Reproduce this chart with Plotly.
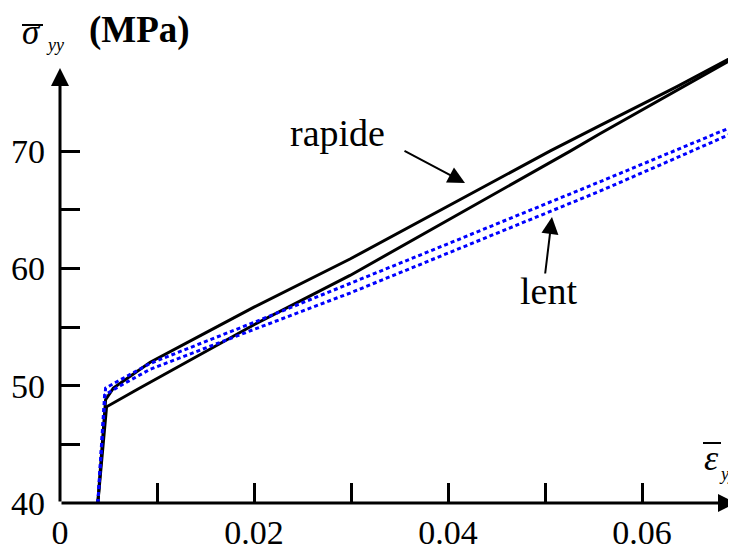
import plotly.graph_objects as go

# ---------------- data ----------------
strain_rapide_a = [0.0039, 0.0047, 0.0055, 0.0093, 0.0150, 0.0200, 0.0299, 0.0400, 0.0505, 0.0557, 0.0636, 0.0720]
stress_rapide_a = [40.0, 48.8, 49.8, 52.0, 54.5, 56.7, 60.8, 65.3, 70.0, 72.2, 75.5, 79.2]

strain_rapide_b = [0.0039, 0.0048, 0.0080, 0.0119, 0.0200, 0.0299, 0.0400, 0.0526, 0.0557, 0.0636, 0.0720]
stress_rapide_b = [40.0, 48.2, 49.7, 51.5, 55.2, 59.4, 64.1, 70.0, 71.5, 75.2, 79.1]

strain_lent_a = [0.0039, 0.0047, 0.0060, 0.0093, 0.0200, 0.0299, 0.0400, 0.0557, 0.0632, 0.0720]
stress_lent_a = [40.0, 49.8, 50.4, 51.9, 55.4, 58.7, 62.1, 67.4, 70.0, 73.0]

strain_lent_b = [0.0039, 0.0046, 0.0060, 0.0093, 0.0200, 0.0299, 0.0400, 0.0557, 0.0632, 0.0720]
stress_lent_b = [40.0, 49.2, 49.9, 51.4, 54.8, 57.9, 61.3, 66.6, 69.3, 72.5]

x_tick_vals = [0, 0.02, 0.04, 0.06]
x_tick_text = ["0", "0.02", "0.04", "0.06"]
x_minor_ticks = [0.01, 0.03, 0.05]
y_tick_vals = [40, 50, 60, 70]
y_tick_text = ["40", "50", "60", "70"]
y_minor_ticks = [45, 55, 65]

# ---------------- layout helpers ----------------
OFF = 8                     # page body margin of the html page
W, H = 736 - OFF, 547 - OFF
ML, MR, MT, MB = 60 - OFF, 0, 0, 547 - 503
PW, PH = W - ML - MR, H - MT - MB
X_PER_PX = 0.01 / 97.0
Y_PER_PX = 10 / 117.3
X_MAX = PW * X_PER_PX
Y_MIN = 40
Y_MAX = Y_MIN + PH * Y_PER_PX
FONT = "Liberation Serif, Times New Roman, serif"


def px(xp):
    """page pixel x -> paper coordinate"""
    return (xp - OFF - ML) / PW


def py(yp):
    """page pixel y -> paper coordinate"""
    return (H - MB - (yp - OFF)) / PH


fig = go.Figure()
for xs, ys in [(strain_rapide_a, stress_rapide_a), (strain_rapide_b, stress_rapide_b)]:
    fig.add_trace(go.Scatter(x=xs, y=ys, mode="lines",
                             line=dict(color="black", width=3), showlegend=False))
for xs, ys in [(strain_lent_a, stress_lent_a), (strain_lent_b, stress_lent_b)]:
    fig.add_trace(go.Scatter(x=xs, y=ys, mode="lines",
                             line=dict(color="#0000ff", width=3, dash="4px,3px"), showlegend=False))

annotations = []
# axis arrows (domain coordinates == paper coordinates here)
dom = dict(xref="x domain", yref="y domain", axref="x domain", ayref="y domain")
annotations.append(dict(x=px(736), y=py(503), ax=px(60), ay=py(503), **dom,
                        showarrow=True, arrowhead=2, arrowsize=1.2, arrowwidth=3,
                        arrowcolor="black", text=""))
annotations.append(dict(x=px(60), y=py(68), ax=px(60), ay=py(503), **dom,
                        showarrow=True, arrowhead=2, arrowsize=1.2, arrowwidth=3,
                        arrowcolor="black", text=""))
# curve labels
annotations.append(dict(x=px(465), y=py(183), xref="paper", yref="paper", ax=-62, ay=-33,
                        showarrow=True, arrowhead=2, arrowsize=1.7, arrowwidth=2,
                        arrowcolor="black", text=""))
annotations.append(dict(x=px(552), y=py(217), xref="paper", yref="paper", ax=-7, ay=58,
                        showarrow=True, arrowhead=2, arrowsize=1.7, arrowwidth=2,
                        arrowcolor="black", text=""))
annotations.append(dict(x=px(337.5), y=py(133), xref="paper", yref="paper", showarrow=False,
                        text="rapide", font=dict(family=FONT, size=38, color="black"),
                        xanchor="center", yanchor="middle"))
annotations.append(dict(x=px(548.5), y=py(291), xref="paper", yref="paper", showarrow=False,
                        text="lent", font=dict(family=FONT, size=38, color="black"),
                        xanchor="center", yanchor="middle"))
# axis titles
annotations.append(dict(x=px(32), y=py(33), xref="paper", yref="paper", showarrow=False,
                        text="<i>σ</i>", font=dict(family=FONT, size=35, color="black"),
                        xanchor="center", yanchor="middle"))
annotations.append(dict(x=px(55), y=py(45), xref="paper", yref="paper", showarrow=False,
                        text="<i>yy</i>", font=dict(family=FONT, size=18, color="black"),
                        xanchor="center", yanchor="middle"))
annotations.append(dict(x=px(139), y=py(30), xref="paper", yref="paper", showarrow=False,
                        text="<b>(MPa)</b>", font=dict(family=FONT, size=37, color="black"),
                        xanchor="center", yanchor="middle"))
annotations.append(dict(x=px(711), y=py(458), xref="paper", yref="paper", showarrow=False,
                        text="<i>ε</i>", font=dict(family=FONT, size=36, color="black"),
                        xanchor="center", yanchor="middle"))
annotations.append(dict(x=px(718), y=py(474), xref="paper", yref="paper", showarrow=False,
                        text="<i>yy</i>", font=dict(family=FONT, size=18, color="black"),
                        xanchor="left", yanchor="middle", borderpad=0))

shapes = [
    dict(type="line", xref="paper", yref="paper", x0=px(22), x1=px(43), y0=py(25), y1=py(25),
         line=dict(color="black", width=2)),
    dict(type="line", xref="paper", yref="paper", x0=px(703), x1=px(721), y0=py(443), y1=py(443),
         line=dict(color="black", width=2)),
]

tick_style = dict(ticks="inside", ticklen=20, tickwidth=2.5, tickcolor="black")

fig.update_layout(
    width=W, height=H,
    margin=dict(l=ML, r=MR, t=MT, b=MB, pad=0, autoexpand=False),
    paper_bgcolor="white", plot_bgcolor="white",
    showlegend=False,
    annotations=annotations,
    shapes=shapes,
    xaxis=dict(range=[0, X_MAX], showgrid=False, zeroline=False, showline=False,
               automargin=False,
               tickmode="array", tickvals=x_tick_vals, ticktext=x_tick_text,
               tickfont=dict(family=FONT, size=34, color="black"),
               minor=dict(tickmode="array", tickvals=x_minor_ticks, showgrid=False, **tick_style),
               ticklabelstandoff=6, fixedrange=True, **tick_style),
    yaxis=dict(range=[Y_MIN, Y_MAX], showgrid=False, zeroline=False, showline=False,
               automargin=False,
               tickmode="array", tickvals=y_tick_vals, ticktext=y_tick_text,
               tickfont=dict(family=FONT, size=34, color="black"),
               minor=dict(tickmode="array", tickvals=y_minor_ticks, showgrid=False, **tick_style),
               ticklabelstandoff=14, fixedrange=True, **tick_style),
)

fig.write_html("out.html")
